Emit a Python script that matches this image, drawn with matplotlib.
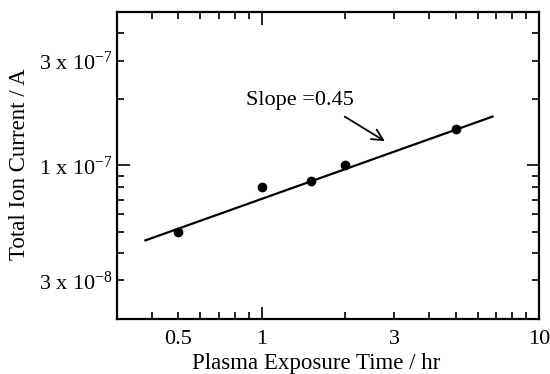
import matplotlib
matplotlib.use("Agg")
import matplotlib.pyplot as plt
import numpy as np
from matplotlib.ticker import LogLocator, FuncFormatter

plt.rcParams['font.family'] = ['Liberation Serif', 'DejaVu Serif']
plt.rcParams['mathtext.fontset'] = 'custom'
plt.rcParams['mathtext.rm'] = 'Liberation Serif'
plt.rcParams['mathtext.it'] = 'Liberation Serif:italic'

# measured points
time_hr = [0.5, 1.0, 1.5, 2.0, 5.0]
current_A = [5.0e-8, 8.0e-8, 8.5e-8, 1.0e-7, 1.47e-7]

# fitted power law I = A * t^slope
fit_slope = 0.45
fit_prefactor = 7.05e-8
fit_t = [0.38, 6.8]

x_label_values = [0.5, 1, 3, 10]
x_label_text = ['0.5', '1', '3', '10']
y_label_values = [3e-8, 1e-7, 3e-7]
y_label_text = ['3 x 10$^{-8}$', '1 x 10$^{-7}$', '3 x 10$^{-7}$']

fig = plt.figure(figsize=(5.5, 3.74), dpi=100)
ax = fig.add_axes([0.2127, 0.147, 0.7673, 0.821])

t_line = np.array(fit_t)
ax.plot(t_line, fit_prefactor * t_line ** fit_slope, color='black', lw=1.6)
ax.plot(time_hr, current_A, 'o', color='black', ms=6)

ax.set_xscale('log')
ax.set_yscale('log')
ax.set_xlim(0.3, 10)
ax.set_ylim(2e-8, 5e-7)

for axis in (ax.xaxis, ax.yaxis):
    axis.set_major_locator(LogLocator(base=10))
    axis.set_minor_locator(LogLocator(base=10, subs=np.arange(2, 10)))

def make_fmt(values, texts):
    def f(v, pos):
        for val, txt in zip(values, texts):
            if abs(np.log10(v) - np.log10(val)) < 1e-6:
                return txt
        return ''
    return FuncFormatter(f)

xfmt = make_fmt(x_label_values, x_label_text)
yfmt = make_fmt(y_label_values, y_label_text)
ax.xaxis.set_major_formatter(xfmt)
ax.xaxis.set_minor_formatter(xfmt)
ax.yaxis.set_major_formatter(yfmt)
ax.yaxis.set_minor_formatter(yfmt)

ax.tick_params(which='both', direction='in', top=True, right=True,
               width=1.2, labelsize=16)
ax.tick_params(axis='x', which='both', pad=8)
ax.tick_params(axis='y', which='both', pad=3)
ax.tick_params(which='major', length=9)
ax.tick_params(which='minor', length=5)
for s in ax.spines.values():
    s.set_linewidth(1.6)

ax.set_xlabel('Plasma Exposure Time / hr', fontsize=16.5)
ax.xaxis.set_label_coords(0.473, -0.162, transform=ax.transAxes)
ax.xaxis.label.set_va('baseline')
ax.set_ylabel('Total Ion Current / A', fontsize=16.5)
ax.yaxis.set_label_coords(-0.232, 0.505, transform=ax.transAxes)
ax.yaxis.label.set_va('center')

# annotation: arrow pointing at the fit line, label above
ax.annotate('', xy=(2.78, 1.29e-7), xytext=(1.99, 1.67e-7),
            arrowprops=dict(arrowstyle='->', color='black', lw=1.3,
                            shrinkA=0, shrinkB=0, mutation_scale=20))
ax.text(1.37, 1.97e-7, 'Slope =0.45', fontsize=16, ha='center', va='center')

fig.savefig('out.png', dpi=100)
